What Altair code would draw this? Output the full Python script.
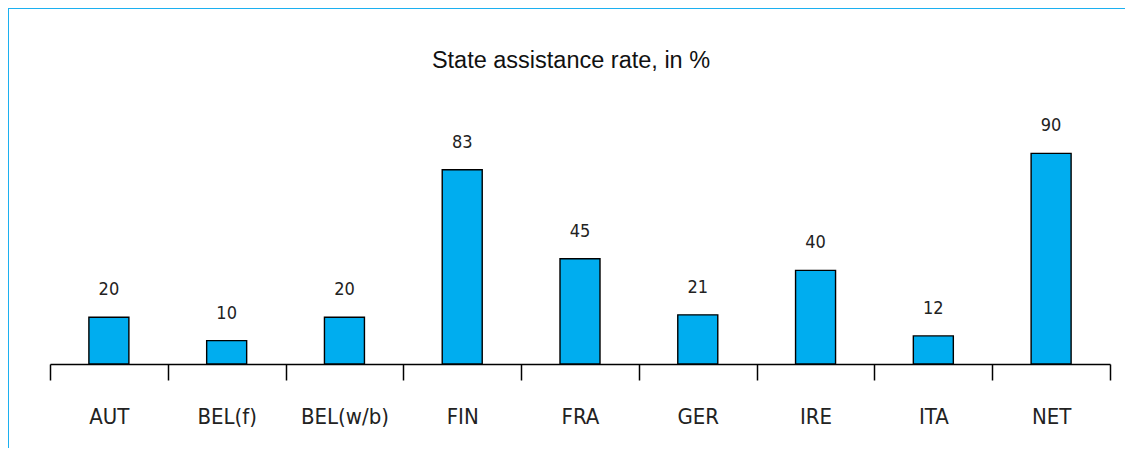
import altair as alt
import pandas as pd

countries = ["AUT", "BEL(f)", "BEL(w/b)", "FIN", "FRA", "GER", "IRE", "ITA", "NET"]
rates = [20, 10, 20, 83, 45, 21, 40, 12, 90]
title_text = ["State assistance rate, in %"]

df = pd.DataFrame({"country": countries, "rate": rates})
tdf = pd.DataFrame({"t": title_text})

COND = "Liberation Sans Narrow, DejaVu Sans Condensed, sans-serif"

x = alt.X(
    "country:N",
    sort=countries,
    title=None,
    scale=alt.Scale(paddingInner=0, paddingOuter=0),
    axis=alt.Axis(
        labelAngle=0,
        tickBand="extent",
        tickSize=16,
        tickColor="black",
        tickWidth=1.5,
        domainColor="black",
        domainWidth=1.5,
        labelFont=COND,
        labelFontSize=22,
        labelColor="#222222",
        labelPadding=26,
        labelBaseline="top",
    ),
)
y = alt.Y("rate:Q", scale=alt.Scale(domain=[0, 100]), axis=None)

bars = alt.Chart(df).mark_bar(
    width=40, color="#00adef", stroke="black", strokeWidth=1.4
).encode(x=x, y=y)

labels = alt.Chart(df).mark_text(
    baseline="bottom", dy=-18, font=COND, fontSize=18, color="#222222"
).encode(x=x, y=y, text="rate:Q")

title = alt.Chart(tdf).mark_text(
    font="Liberation Sans, Arial, sans-serif",
    fontSize=23.5,
    color="#111111",
    align="center",
    baseline="alphabetic",
).encode(x=alt.value(521), y=alt.value(-62), text="t:N")

border_left = alt.Chart(df).mark_rule(color="#1cb0f0", strokeWidth=2).encode(
    x=alt.value(-42), y=alt.value(-122), y2=alt.value(320)
)
border_top = alt.Chart(df).mark_rule(color="#1cb0f0", strokeWidth=2).encode(
    x=alt.value(-42), x2=alt.value(1080), y=alt.value(-122)
)

chart = (
    alt.layer(bars, labels, title, border_left, border_top)
    .properties(
        width=1060,
        height=234,
        autosize=alt.AutoSizeParams(type="none"),
        padding={"left": 42, "top": 122, "right": 15, "bottom": 84},
        background="white",
    )
    .configure_view(stroke=None)
)

chart.save("out.html", embed_options={"renderer": "svg", "actions": False})
